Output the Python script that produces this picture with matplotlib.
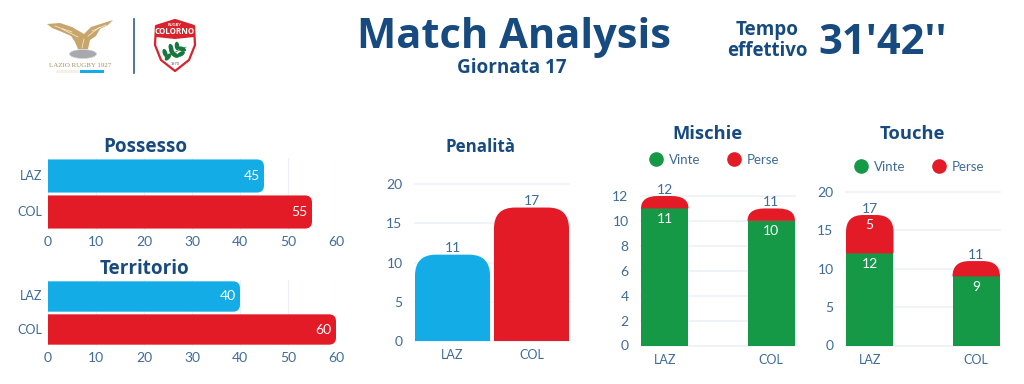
import matplotlib
matplotlib.use("Agg")
import matplotlib.pyplot as plt
from matplotlib.lines import Line2D
from matplotlib.patches import Ellipse, PathPatch, Polygon, Rectangle
from matplotlib.path import Path

teams = ["LAZ", "COL"]
possesso = [45, 55]
territorio = [40, 60]
penalita = [11, 17]
mischie_vinte = [11, 10]
mischie_perse = [1, 1]
mischie_tot = [12, 11]
touche_vinte = [12, 9]
touche_perse = [5, 2]
touche_perse_labels = ["5", ""]
touche_tot = [17, 11]

W, H = 1024, 384
SKY = "#14ace6"
RED = "#e31b27"
GREEN = "#169947"
TITLE = "#174a7e"
TICK = "#3f6b99"
GRID = "#edf1f6"
BODY = "Lato"
HEAD = "Open Sans"

plt.rcParams["font.family"] = [BODY, "DejaVu Sans"]
fig = plt.figure(figsize=(W / 100, H / 100), dpi=100)


def px_axes(x0, y0, x1, y1):
    ax = fig.add_axes([x0 / W, 1 - y1 / H, (x1 - x0) / W, (y1 - y0) / H])
    ax.patch.set_alpha(0)
    for s in ax.spines.values():
        s.set_visible(False)
    ax.tick_params(length=0, colors=TICK, labelsize=9.5)
    ax.set_axisbelow(True)
    return ax


def round_bar(ax, a, b, c, d, rx, ry, corners, color):
    # rectangle a..b horizontally, c..d vertically, corners is (bl, br, tr, tl)
    ry = min(ry, abs(d - c))
    V = [(a + (rx if corners[0] else 0), c)]
    C = [Path.MOVETO]
    V += [(b - (rx if corners[1] else 0), c)]
    C += [Path.LINETO]
    if corners[1]:
        V += [(b, c), (b, c + ry)]
        C += [Path.CURVE3, Path.CURVE3]
    V += [(b, d - (ry if corners[2] else 0))]
    C += [Path.LINETO]
    if corners[2]:
        V += [(b, d), (b - rx, d)]
        C += [Path.CURVE3, Path.CURVE3]
    V += [(a + (rx if corners[3] else 0), d)]
    C += [Path.LINETO]
    if corners[3]:
        V += [(a, d), (a, d - ry)]
        C += [Path.CURVE3, Path.CURVE3]
    V += [(a, c + (ry if corners[0] else 0))]
    C += [Path.LINETO]
    if corners[0]:
        V += [(a, c), (a + rx, c)]
        C += [Path.CURVE3, Path.CURVE3]
    ax.add_patch(PathPatch(Path(V, C), fc=color, ec="none", zorder=3))


def title(x, y, s, size=13.2):
    fig.text(x / W, 1 - (y + 2) / H, s, color=TITLE, family=HEAD, weight="bold",
             fontsize=size, ha="center", va="center")


def hbar_panel(box, values, name, title_y):
    ax = px_axes(*box)
    ax.set_xlim(0, 60)
    ax.set_ylim(1.5, -0.5)
    ax.set_xticks(range(0, 61, 10))
    ax.set_yticks(range(2))
    ax.set_yticklabels(teams, va="center")
    ax.tick_params(axis="x", pad=4, labelsize=10)
    ax.tick_params(axis="y", pad=4, labelsize=9)
    ax.grid(axis="x", color=GRID, lw=1)
    rx = 7 * 60 / (box[2] - box[0])
    ry = 7 * 2 / (box[3] - box[1])
    for i, v in enumerate(values):
        round_bar(ax, 0, v, i + 0.46, i - 0.46, rx, -ry, (0, 1, 1, 0), [SKY, RED][i])
        ax.text(v - 0.9, i, str(v), color="white", ha="right", va="center",
                fontsize=10, zorder=4)
    title(145, title_y, name, 13.6)


def vert_axes(box, ymax, step, xlim):
    ax = px_axes(*box)
    ax.set_xlim(*xlim)
    ax.set_ylim(0, ymax)
    ax.set_yticks(range(0, ymax + 1, step))
    ax.set_xticks(range(2))
    ax.set_xticklabels(teams, fontsize=9)
    ax.tick_params(axis="x", pad=6)
    ax.tick_params(axis="y", pad=9, labelsize=10)
    ax.grid(axis="y", color=GRID, lw=1.2, clip_on=False)
    ax.axhline(0, color=GRID, lw=1.2, zorder=1)
    return ax


hbar_panel((48, 158, 336, 230), possesso, "Possesso", 145)
hbar_panel((48, 280, 336, 346), territorio, "Territorio", 267)

# Penalita
box = (415, 184, 569, 341)
ax = vert_axes(box, 20, 5, (-0.475, 1.475))
rx = 21 * 1.95 / (box[2] - box[0])
ry = 21 * 20 / (box[3] - box[1])
for i, v in enumerate(penalita):
    round_bar(ax, i - 0.475, i + 0.475, 0, v, rx, ry, (0, 0, 1, 1), [SKY, RED][i])
    ax.text(i, v + 0.1, str(v), color=TICK, ha="center", va="bottom", fontsize=10)
title(480.5, 145, "Penalità", 12.2)


def stacked(box, ymax, step, won, lost, totals, lost_labels, name, legend_y):
    width = 0.446
    ax = vert_axes(box, ymax, step, (-width / 2, 1 + width / 2))
    rx = 17 * (1 + width) / (box[2] - box[0])
    ry = 17 * ymax / (box[3] - box[1])
    for i in range(2):
        round_bar(ax, i - width / 2, i + width / 2, 0, won[i], rx, ry, (0, 0, 0, 0), GREEN)
        round_bar(ax, i - width / 2, i + width / 2, won[i], won[i] + lost[i], rx, ry,
                  (0, 0, 1, 1), RED)
        ax.text(i, won[i] - ymax * 0.028, str(won[i]), color="white", ha="center", va="top",
                fontsize=10, zorder=4)
        if lost_labels[i]:
            ax.text(i, won[i] + lost[i] - ymax * 0.028, lost_labels[i], color="white",
                    ha="center", va="top", fontsize=10, zorder=4)
        ax.text(i, totals[i] + ymax * 0.002, str(totals[i]), color=TICK, ha="center",
                va="bottom", fontsize=10)
    handles = [Line2D([], [], ls="", marker="o", ms=9.5, color=GREEN, label="Vinte"),
               Line2D([], [], ls="", marker="o", ms=9.5, color=RED, label="Perse")]
    ax.legend(handles=handles, ncol=2, frameon=False, loc="center",
              bbox_to_anchor=(0.5 - 3.5 / (box[2] - box[0]),
                              1 + (box[1] - legend_y) / (box[3] - box[1])),
              labelcolor=TICK, fontsize=9.5, columnspacing=2.0, handlelength=1,
              handletextpad=0.5)
    title((box[0] + box[2]) / 2 - 11, 132, name)


stacked((641, 196, 795, 345.5), 12, 2, mischie_vinte, mischie_perse, mischie_tot,
        ["", ""], "Mischie", 160)
stacked((846, 192, 1000, 345.5), 20, 5, touche_vinte, touche_perse, touche_tot,
        touche_perse_labels, "Touche", 167)

# header
title(514, 36, "Match Analysis", 30)
title(512, 66, "Giornata 17", 13.6)
title(767, 28, "Tempo", 13.6)
title(767, 49, "effettivo", 13.4)
title(883, 41, "31'42''", 30)

# logos, drawn in pixel coordinates
lg = fig.add_axes([0, 0, 1, 1])
lg.set_xlim(0, W)
lg.set_ylim(H, 0)
lg.axis("off")
lg.patch.set_alpha(0)
gold = "#c8a66b"
lg.add_patch(Polygon([(47, 24), (60, 23), (72, 27), (84, 34), (91, 27), (113, 20), (108, 25),
                      (100, 29), (96, 36), (90, 40), (88, 49), (78, 49), (75, 42), (71, 36),
                      (62, 32), (52, 28)], fc=gold, ec="none"))
for xs, ys in [([55, 72], [26, 32]), ([62, 78], [29, 37]), ([92, 106], [31, 25]),
               ([84, 82], [39, 48]), ([88, 100], [36, 27])]:
    lg.plot(xs, ys, color="white", lw=0.5, alpha=0.8)
lg.add_patch(Ellipse((83, 54), 27, 9, fc="#a7a9ad", ec="#d5d6d8", lw=0.5))
lg.text(80, 65.5, "LAZIO RUGBY 1927", family="Liberation Serif", fontsize=5, color="#a8925f",
        ha="center", va="center")
lg.add_patch(Rectangle((56, 70), 24, 3, fc="#f5f1e6", ec="none"))
lg.add_patch(Rectangle((80, 70), 24, 3, fc=SKY, ec="none"))
lg.plot([133.5, 133.5], [19, 73], color="#2a5f93", lw=1.2)

outer = [(156, 26), (175, 20), (194, 26), (195, 45), (189, 60), (175, 71), (161, 60), (155, 45)]
lg.add_patch(Polygon(outer, fc="white", ec="#d8222c", lw=1.6, joinstyle="round"))
lg.add_patch(Polygon([(156, 26), (175, 20), (194, 26), (194.5, 37), (175, 39), (155.5, 37)],
                     fc="#d8222c", ec="none"))
lg.text(175, 25.5, "RUGBY", fontsize=3, color="white", ha="center", va="center", weight="bold")
lg.text(175, 31.5, "COLORNO", family="Open Sans", fontsize=5.8, color="white", ha="center",
        va="center", weight="bold")
lg.plot([165, 186], [57, 47], color="#1c7a40", lw=0.5)
for cx, cy, a in [(165, 53, 70), (171, 48, 75), (177, 46, 85), (182, 49, 20), (168, 57, 130),
                  (175, 55, 30), (181, 54, 150), (172, 52, 60)]:
    lg.add_patch(Ellipse((cx, cy), 8.5, 4.5, angle=a, fc="#17763e", ec="none"))
lg.text(175, 64, "1970", fontsize=2.8, color="#555555", ha="center", va="center")

fig.savefig("out.png", dpi=100, facecolor="white")
